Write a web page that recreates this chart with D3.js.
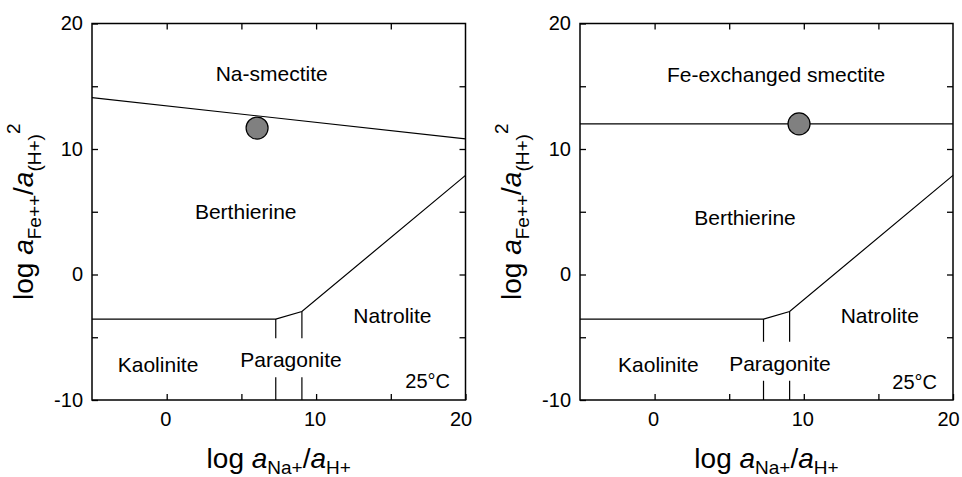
<!DOCTYPE html>
<html>
<head>
<meta charset="utf-8">
<script src="https://cdn.jsdelivr.net/npm/d3@7"></script>
<style>
  html, body { margin: 0; padding: 0; background: #fff; }
  svg { display: block; }
  text { font-family: "Liberation Sans", Arial, Helvetica, sans-serif; fill: #000; }
</style>
</head>
<body>
<svg id="chart" width="962" height="477"></svg>
<script>
// Axis ranges and ticks (log activity ratios)
const xDomain = [-5, 20];
const yDomain = [-10, 20];
const xTickValues = [0, 5, 10, 15];
const yTickValues = [-5, 0, 5, 10, 15];
const xTickLabels = [0, 10, 20];
const yTickLabels = [-10, 0, 10, 20];

// Shared phase boundaries (lower part of both diagrams)
const berthierineLower = [[-5, -3.55], [7.3, -3.55], [9.05, -2.95], [20, 7.9]];
const kaoliniteParagonite = 7.3;   // x of the Kaolinite / Paragonite boundary
const paragoniteNatrolite = 9.05;  // x of the Paragonite / Natrolite boundary

// Upper boundary of Berthierine in each diagram
const naSmectiteBoundary = [[-5, 14.1], [20, 10.8]];
const feSmectiteBoundary = [[-5, 12.0], [20, 12.0]];

// Measured water composition plotted in each diagram
const pointNa = [6.05, 11.67];
const pointFe = [9.68, 12.0];

// Field labels: [text, x, y] in data units
const labelsNa = [
  ["Na-smectite", 7.03, 15.42],
  ["Berthierine", 5.29, 4.42],
  ["Natrolite", 15.11, -3.86],
  ["Kaolinite", -0.58, -7.75],
  ["Paragonite", 8.32, -7.39]
];
const labelsFe = [
  ["Fe-exchanged smectite", 8.14, 15.34],
  ["Berthierine", 6.06, 3.94],
  ["Natrolite", 15.09, -3.86],
  ["Kaolinite", 0.25, -7.75],
  ["Paragonite", 8.40, -7.67]
];
const tempLabel = "25°C";
const tempPosNa = [18.96, -9.04];
const tempPosFe = [18.93, -9.12];

const svg = d3.select("#chart");

function drawPanel(left, right, boundary, point, labels, tempPos) {
  const top = 23.5, bottom = 400;
  const x = d3.scaleLinear().domain(xDomain).range([left, right]);
  const y = d3.scaleLinear().domain(yDomain).range([bottom, top]);
  const g = svg.append("g");

  // inward ticks on all four sides
  const fmtX = d => xTickLabels.includes(d) ? d : "";
  const fmtY = d => yTickLabels.includes(d) ? d : "";
  const bottomAxis = g.append("g").attr("transform", `translate(0,${bottom})`)
    .call(d3.axisBottom(x).tickValues(xTickValues.concat([20])).tickSize(-6).tickPadding(12).tickFormat(fmtX));
  g.append("g").attr("transform", `translate(${left},0)`)
    .call(d3.axisLeft(y).tickValues(yTickValues.concat([-10, 20])).tickSize(-6).tickPadding(9).tickFormat(fmtY));
  g.append("g").attr("transform", `translate(0,${top})`)
    .call(d3.axisTop(x).tickValues(xTickValues).tickSize(-6).tickFormat(""));
  g.append("g").attr("transform", `translate(${right},0)`)
    .call(d3.axisRight(y).tickValues(yTickValues).tickSize(-6).tickFormat(""));
  g.selectAll(".domain").remove();
  g.selectAll(".tick line").attr("stroke", "#000").attr("stroke-width", 1.3);
  g.selectAll(".tick text").style("font-size", "20px").attr("fill", "#000");
  // the end label sits a little inside the frame corner
  bottomAxis.selectAll(".tick text").attr("dx", d => d === 20 ? -5 : -1.5);

  // frame
  g.append("rect")
    .attr("x", left).attr("y", top)
    .attr("width", right - left).attr("height", bottom - top)
    .attr("fill", "none").attr("stroke", "#000").attr("stroke-width", 1.5);

  const line = d3.line().x(d => x(d[0])).y(d => y(d[1]));
  const lines = g.append("g").attr("fill", "none").attr("stroke", "#000").attr("stroke-width", 1.2);
  lines.append("path").attr("d", line(boundary));
  lines.append("path").attr("d", line(berthierineLower));

  // vertical boundaries, interrupted around the Paragonite label
  const para = labels.find(l => l[0] === "Paragonite");
  const gapTop = y(para[2]) - 29, gapBottom = y(para[2]) + 10;
  const yAtKink = xv => berthierineLower.find(p => p[0] === xv)[1];
  [kaoliniteParagonite, paragoniteNatrolite].forEach(xv => {
    lines.append("line").attr("x1", x(xv)).attr("x2", x(xv))
      .attr("y1", y(yAtKink(xv))).attr("y2", gapTop);
    lines.append("line").attr("x1", x(xv)).attr("x2", x(xv))
      .attr("y1", gapBottom).attr("y2", bottom);
  });

  // field labels
  g.append("g").selectAll("text").data(labels).join("text")
    .attr("x", d => x(d[1])).attr("y", d => y(d[2]))
    .attr("text-anchor", "middle")
    .style("font-size", "21px")
    .text(d => d[0]);

  g.append("text")
    .attr("x", x(tempPos[0])).attr("y", y(tempPos[1]))
    .attr("text-anchor", "end")
    .style("font-size", "20px")
    .text(tempLabel);

  // sample point
  g.append("circle")
    .attr("cx", x(point[0])).attr("cy", y(point[1])).attr("r", 11)
    .attr("fill", "#808080").attr("stroke", "#000").attr("stroke-width", 1.2);

  // x axis title
  const xt = g.append("text")
    .attr("x", (left + right) / 2).attr("y", 468)
    .attr("text-anchor", "middle")
    .style("font-size", "28px");
  xt.append("tspan").text("log ");
  xt.append("tspan").style("font-style", "italic").text("a");
  xt.append("tspan").attr("dy", 6).style("font-size", "19px").text("Na+");
  xt.append("tspan").attr("dy", -6).text("/");
  xt.append("tspan").style("font-style", "italic").text("a");
  xt.append("tspan").attr("dy", 6).style("font-size", "19px").text("H+");

  // y axis title
  const ty = g.append("text")
    .attr("transform", `translate(${left - 59},${(top + bottom) / 2}) rotate(-90)`)
    .attr("text-anchor", "middle")
    .style("font-size", "28px");
  ty.append("tspan").text("log ");
  ty.append("tspan").style("font-style", "italic").text("a");
  ty.append("tspan").attr("dy", 8).style("font-size", "19px").text("Fe++");
  ty.append("tspan").attr("dy", -8).text("/");
  ty.append("tspan").style("font-style", "italic").text("a");
  ty.append("tspan").attr("dy", 8).style("font-size", "19px").text("(H+)");
  ty.append("tspan").attr("dy", -21).style("font-size", "19px").text("2");
}

drawPanel(92, 465.5, naSmectiteBoundary, pointNa, labelsNa, tempPosNa);
drawPanel(580, 953, feSmectiteBoundary, pointFe, labelsFe, tempPosFe);
</script>
</body>
</html>
